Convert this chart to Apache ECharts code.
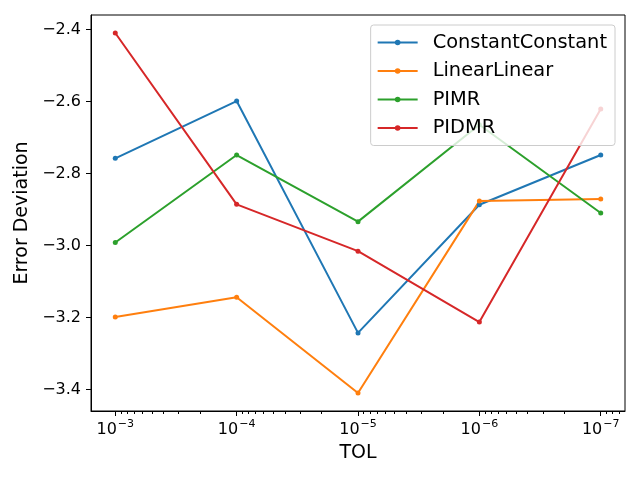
<!DOCTYPE html>
<html lang="en">
<head>
    <meta charset="utf-8">
    <title>Error Deviation vs TOL</title>
    <script type="text/javascript" src="https://cdn.jsdelivr.net/npm/echarts@6/dist/echarts.min.js"></script>
    <style>
        html, body { margin: 0; padding: 0; background: #fff; }
    </style>
</head>
<body>
    <div id="main" style="width: 640px;height:480px;"></div>

<script type="text/javascript">
    // TOL values (x, log scale shown reversed)
    var tol = [1e-3, 1e-4, 1e-5, 1e-6, 1e-7];
    var seriesNames = ['ConstantConstant', 'LinearLinear', 'PIMR', 'PIDMR'];
    var constantConstant = [-2.758, -2.599, -3.243, -2.887, -2.749];
    var linearLinear     = [-3.199, -3.144, -3.410, -2.877, -2.871];
    var pimr             = [-2.992, -2.749, -2.934, -2.665, -2.910];
    var pidmr            = [-2.410, -2.886, -3.016, -3.213, -2.621];
    var colors = ['#1f77b4', '#ff7f0e', '#2ca02c', '#d62728'];
    var yTicks = [-3.4, -3.2, -3.0, -2.8, -2.6, -2.4];
    var xTicks = [3, 4, 5, 6, 7]; // -log10(TOL)

    var font = 'DejaVu Sans';

    // 轴坐标: -log10(TOL)，这样 10^-3 在左边
    function toX(t) { return -Math.log10(t); }

    // 对数轴的次刻度 (2..9 x 10^k)
    var minorTicks = [];
    for (var k = 3; k <= 8; k++) {
        for (var m = 2; m <= 9; m++) {
            var v = k - Math.log10(m);
            if (v > 2.8 && v < 7.2) minorTicks.push(v);
        }
    }

    function pairs(ys) {
        var out = [];
        for (var i = 0; i < tol.length; i++) out.push([toX(tol[i]), ys[i]]);
        return out;
    }

    var allData = [constantConstant, linearLinear, pimr, pidmr];
    var series = [];
    for (var i = 0; i < seriesNames.length; i++) {
        series.push({
            name: seriesNames[i],
            type: 'line',
            data: pairs(allData[i]),
            symbol: 'circle',
            symbolSize: 5,
            showSymbol: true,
            lineStyle: { width: 2, color: colors[i] },
            itemStyle: { color: colors[i] },
            emphasis: { disabled: true },
            animation: false
        });
    }

    var myChart = echarts.init(document.getElementById('main'));
    var option = {
        animation: false,
        textStyle: { fontFamily: font },
        grid: {
            left: 91, right: 15, top: 15, bottom: 69,
            show: true, borderColor: '#000', borderWidth: 1,
            containLabel: false
        },
        legend: {
            data: seriesNames,
            orient: 'vertical',
            right: 25,
            top: 25,
            padding: [8, 8, 8, 6],
            itemGap: 9.5,
            itemWidth: 40,
            itemHeight: 7,
            lineStyle: { width: 2 },
            backgroundColor: 'rgba(255,255,255,0.8)',
            borderColor: '#cccccc',
            borderWidth: 1,
            borderRadius: 3,
            textStyle: { fontFamily: font, fontSize: 19.4, color: '#000', padding: [0, 0, 0, 10], lineHeight: 19 }
        },
        xAxis: [
            {
                type: 'value',
                min: 2.8,
                max: 7.2,
                name: 'TOL',
                nameLocation: 'middle',
                nameGap: 33,
                nameTextStyle: { fontFamily: font, fontSize: 19, color: '#000' },
                splitLine: { show: false },
                axisLine: { show: true, lineStyle: { color: '#000', width: 1 } },
                axisTick: { show: true, customValues: xTicks, length: 5, lineStyle: { color: '#000', width: 1 } },
                axisLabel: {
                    customValues: xTicks,
                    margin: 8,
                    color: '#000',
                    formatter: function (v) {
                        return '{b|10}{s|\u2212' + Math.round(v) + '}';
                    },
                    rich: {
                        b: { fontFamily: font, fontSize: 16, color: '#000' },
                        s: { fontFamily: font, fontSize: 11, color: '#000', verticalAlign: 'top', padding: [0, 0, 10, 1] }
                    }
                }
            },
            {
                type: 'value',
                min: 2.8,
                max: 7.2,
                position: 'bottom',
                splitLine: { show: false },
                axisLine: { show: false },
                axisLabel: { show: false },
                axisTick: { show: true, customValues: minorTicks, length: 3, lineStyle: { color: '#000', width: 1 } }
            }
        ],
        yAxis: {
            type: 'value',
            min: -3.46,
            max: -2.36,
            name: 'Error Deviation',
            nameLocation: 'middle',
            nameGap: 55,
            nameTextStyle: { fontFamily: font, fontSize: 19, color: '#000' },
            splitLine: { show: false },
            axisLine: { show: true, lineStyle: { color: '#000', width: 1 } },
            axisTick: { show: true, customValues: yTicks, length: 5, lineStyle: { color: '#000', width: 1 } },
            axisLabel: {
                customValues: yTicks,
                margin: 10,
                fontFamily: font,
                fontSize: 16,
                color: '#000',
                formatter: function (v) {
                    return v.toFixed(1).replace('-', '\u2212');
                }
            }
        },
        series: series
    };
    myChart.setOption(option);
</script>
</body>
</html>
